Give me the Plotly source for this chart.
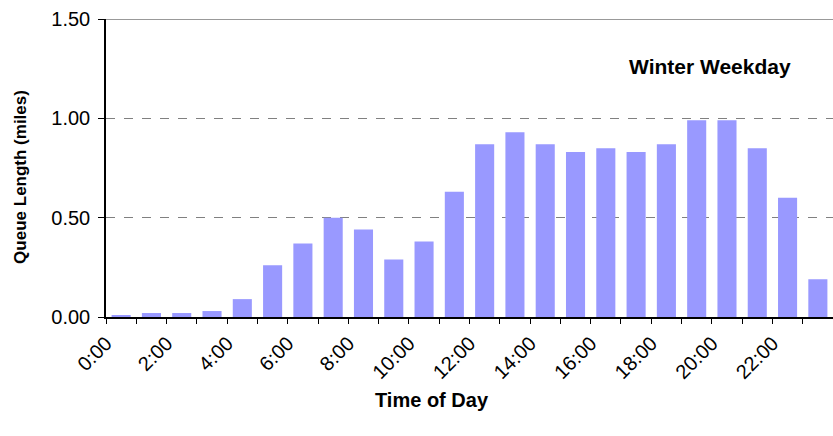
import plotly.graph_objects as go

HOURS = [
    "0:00", "1:00", "2:00", "3:00", "4:00", "5:00", "6:00", "7:00",
    "8:00", "9:00", "10:00", "11:00", "12:00", "13:00", "14:00", "15:00",
    "16:00", "17:00", "18:00", "19:00", "20:00", "21:00", "22:00", "23:00",
]
QUEUE_MILES = [
    0.01, 0.02, 0.02, 0.03, 0.09, 0.26, 0.37, 0.50,
    0.44, 0.29, 0.38, 0.63, 0.87, 0.93, 0.87, 0.83,
    0.85, 0.83, 0.87, 0.99, 0.99, 0.85, 0.60, 0.19,
]
# only every other hour gets a label
TICK_TEXT = [h if i % 2 == 0 else "" for i, h in enumerate(HOURS)]
Y_TICKS = [0.0, 0.5, 1.0, 1.5]

BAR_COLOR = "#9999ff"
FONT = "Arial, Liberation Sans, sans-serif"

fig = go.Figure(go.Bar(
    x=HOURS, y=QUEUE_MILES,
    marker=dict(color=BAR_COLOR, line=dict(width=0)),
    hovertemplate="%{x}: %{y:.2f} mi<extra></extra>",
))

# plot area runs right up to the edge of the image, as in the source
fig.update_layout(
    width=833, height=436,
    margin=dict(l=106, r=0, t=19, b=119),
    paper_bgcolor="white", plot_bgcolor="white",
    bargap=0.37,
    showlegend=False,
    font=dict(family=FONT, size=19, color="black"),
    xaxis=dict(
        type="category", automargin=False,
        tickmode="array", tickvals=HOURS, ticktext=TICK_TEXT,
        tickson="boundaries", ticks="outside", ticklen=5, tickcolor="black",
        tickangle=-45, tickfont=dict(size=20),
        ticklabelshift=-15, ticklabelstandoff=5,
        showline=True, linecolor="black", linewidth=1.5,
        showgrid=False, zeroline=False,
    ),
    yaxis=dict(
        range=[0, 1.5], automargin=False,
        tickmode="array", tickvals=Y_TICKS, tickformat=".2f",
        ticks="outside", ticklen=6, tickcolor="black",
        tickfont=dict(size=20), ticklabelstandoff=4,
        showline=True, linecolor="black", linewidth=1.5,
        showgrid=True, gridcolor="#808080", griddash="dash", gridwidth=1,
        zeroline=False,
    ),
    shapes=[dict(
        type="line", xref="paper", yref="y", x0=0, x1=1, y0=1.5, y1=1.5,
        line=dict(color="#999999", width=2),
    )],
    annotations=[
        dict(text="<b>Winter Weekday</b>", xref="paper", yref="paper",
             x=0.831, y=0.84, xanchor="center", yanchor="middle",
             showarrow=False, font=dict(size=21)),
        dict(text="<b>Queue Length (miles)</b>", xref="paper", yref="paper",
             x=-0.117, y=0.47, xanchor="center", yanchor="middle",
             textangle=-90, showarrow=False, font=dict(size=17)),
        dict(text="<b>Time of Day</b>", xref="paper", yref="paper",
             x=0.448, y=-0.28, xanchor="center", yanchor="middle",
             showarrow=False, font=dict(size=20)),
    ],
)

# drop the browser's default 8px body margin so the figure fills the window
fig.write_html(
    "out.html",
    config={"displayModeBar": False},
    post_script="document.body.style.margin='0';document.body.style.overflow='hidden';",
)
